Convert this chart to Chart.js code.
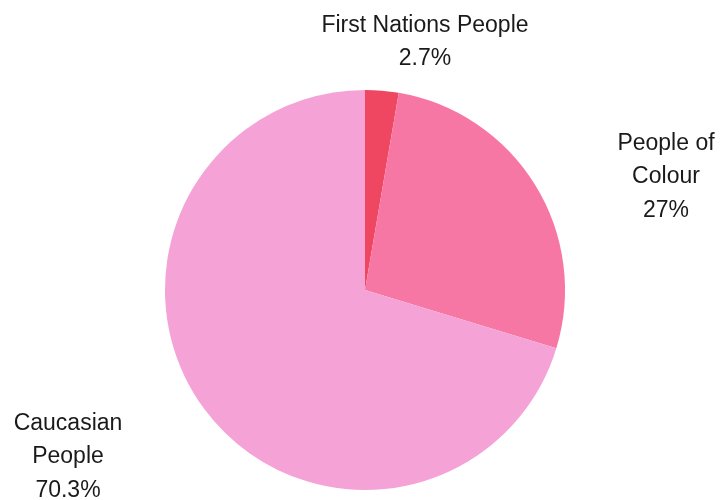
<!DOCTYPE html>
<html>
<head>
<meta charset="utf-8">
<script src="https://cdn.jsdelivr.net/npm/chart.js@4"></script>
<style>
html,body{margin:0;padding:0;background:#fff;}
#wrap{width:720px;height:500px;position:relative;}
</style>
</head>
<body>
<div id="wrap"><canvas id="c" width="720" height="500"></canvas></div>
<script>
const categories = ["First Nations People", "People of Colour", "Caucasian People"];
const labelLines = [["First Nations People", "2.7%"], ["People of", "Colour", "27%"], ["Caucasian", "People", "70.3%"]];
const values = [2.7, 27, 70.3];
const colors = ["#EF4762", "#F777A4", "#F5A3D6"];

// label anchor offsets relative to pie centre, in units of radius (layout only)
const labelOffsets = [[0.30, -1.24], [1.505, -0.565], [-1.485, 0.835]];

const outsideLabels = {
  id: 'outsideLabels',
  afterDraw(chart) {
    const ctx = chart.ctx;
    const meta = chart.getDatasetMeta(0);
    const arc0 = meta.data[0];
    const cx = arc0.x, cy = arc0.y, r = arc0.outerRadius;
    ctx.save();
    ctx.font = '23px "Liberation Sans", Arial, sans-serif';
    ctx.fillStyle = '#1a1a1a';
    ctx.textAlign = 'center';
    ctx.textBaseline = 'middle';
    const lh = 33.5;
    labelLines.forEach((lines, i) => {
      const x = cx + labelOffsets[i][0] * r;
      const y = cy + labelOffsets[i][1] * r;
      const n = lines.length;
      lines.forEach((t, j) => {
        ctx.fillText(t, x, y + (j - (n - 1) / 2) * lh);
      });
    });
    ctx.restore();
  }
};

new Chart(document.getElementById('c'), {
  type: 'pie',
  data: {
    labels: categories,
    datasets: [{ data: values, backgroundColor: colors, borderWidth: 0 }]
  },
  options: {
    responsive: false,
    animation: false,
    layout: { padding: { top: 90, bottom: 10, left: 165, right: 155 } },
    plugins: { legend: { display: false }, tooltip: { enabled: false } }
  },
  plugins: [outsideLabels]
});
</script>
</body>
</html>
